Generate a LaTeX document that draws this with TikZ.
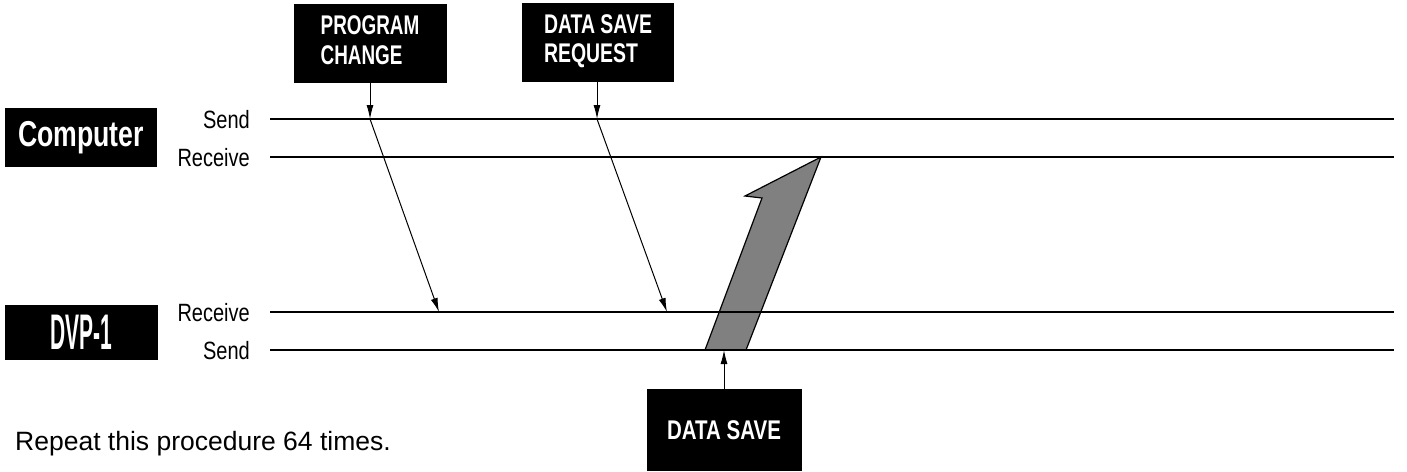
\documentclass[tikz,border=0pt]{standalone}
\usepackage{fontspec}
\setmainfont{Liberation Sans}
\usepackage{graphicx}
\usetikzlibrary{arrows.meta}
\newcommand\cnd[3]{\scalebox{#1}[1]{\fontsize{#2}{#2}\selectfont #3}}
\begin{document}
\begin{tikzpicture}[x=1pt,y=-1pt,
  box/.style={fill=black,text=white,inner sep=0pt},
  lbl/.style={inner sep=0pt},
  tline/.style={line width=1.9pt},
  arr/.style={line width=1pt,-{Latex[length=14pt,width=7pt]}},
  bigarrow/.style={fill=black!50,draw=black,line width=1.2pt,line join=miter}]
\useasboundingbox (0,0) rectangle (1407,471);

% boxes
\node[box,minimum width=152pt,minimum height=59pt] (comp) at (81,137.5)
  {\cnd{0.74}{36}{\bfseries Computer}};
\node[box,minimum width=153pt,minimum height=55pt] (dvp) at (81.5,332.5)
  {\cnd{0.42}{50}{\bfseries DVP-1}};
\node[box,minimum width=153pt,minimum height=79pt] (pc) at (370,43.5)
  {\scalebox{0.7}[1]{\fontsize{27}{30}\selectfont\bfseries\begin{tabular}{@{}l@{}}PROGRAM\\CHANGE\end{tabular}}};
\node[box,minimum width=152pt,minimum height=79pt] (dsr) at (598,42.5)
  {\scalebox{0.72}[1]{\fontsize{27}{29}\selectfont\bfseries\begin{tabular}{@{}l@{}}DATA SAVE\\REQUEST\end{tabular}}};
\node[box,minimum width=155pt,minimum height=82pt] (ds) at (724,430)
  {\cnd{0.76}{27}{\bfseries DATA SAVE}};

% line labels
\node[lbl,anchor=base east] (cs) at (250,128) {\cnd{0.8}{25}{Send}};
\node[lbl,anchor=base east] (cr) at (250,166) {\cnd{0.8}{25}{Receive}};
\node[lbl,anchor=base east] (dr) at (250,321) {\cnd{0.8}{25}{Receive}};
\node[lbl,anchor=base east] (dsn) at (250,359) {\cnd{0.8}{25}{Send}};

\node[lbl,anchor=base west] (rep) at (15,450)
  {\fontsize{26.5}{26.5}\selectfont Repeat this procedure 64 times.};

% line end points
\coordinate (csA) at (270,119);  \coordinate (csB) at (1394,119);
\coordinate (crA) at (270,157);  \coordinate (crB) at (1394,157);
\coordinate (drA) at (270,312);  \coordinate (drB) at (1394,312);
\coordinate (dsA) at (270,350);  \coordinate (dsB) at (1394,350);

% big gray arrow (drawn below the lines)
\coordinate (g1) at (705,350);
\coordinate (g2) at (762,198);
\coordinate (g3) at (745,196);
\coordinate (g4) at (821,157);
\coordinate (g5) at (746,350);
\draw[bigarrow] (g1) -- (g2) -- (g3) -- (g4) -- (g5) -- cycle;

% timing lines
\draw[tline] (csA) -- (csB);
\draw[tline] (crA) -- (crB);
\draw[tline] (drA) -- (drB);
\draw[tline] (dsA) -- (dsB);

% message arrows
\coordinate (pcS) at (370,119);
\coordinate (pcR) at (439,312);
\coordinate (dqS) at (597,119);
\coordinate (dqR) at (667,312);
\coordinate (dsU) at (724,350);
\draw[arr] (pc.south) -- (pcS);
\draw[arr] (pcS) -- (pcR);
\draw[arr] (dsr.south -| dqS) -- (dqS);
\draw[arr] (dqS) -- (dqR);
\draw[arr] (ds.north) -- (dsU);
\end{tikzpicture}
\end{document}
